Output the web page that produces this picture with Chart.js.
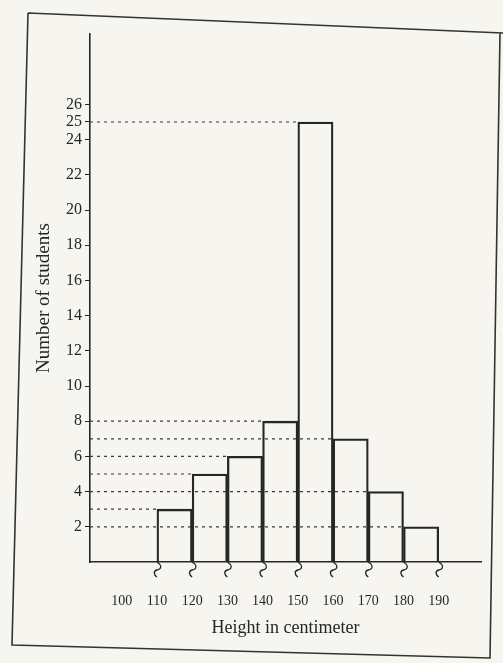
<!DOCTYPE html>
<html>
<head>
<meta charset="utf-8">
<script src="https://cdn.jsdelivr.net/npm/chart.js@4.4.0/dist/chart.umd.min.js"></script>
<style>
  html, body { margin: 0; padding: 0; background: #f6f5f0; }
  #wrap { width: 503px; height: 663px; }
</style>
</head>
<body>
<div id="wrap"><canvas id="histChart" width="503" height="663"></canvas></div>
<script>
// class edges in cm and number of students per class
const heightEdges = [100, 110, 120, 130, 140, 150, 160, 170, 180, 190];
const classStart = [110, 120, 130, 140, 150, 160, 170, 180];
const students = [3, 5, 6, 8, 25, 7, 4, 2];
const yTicks = [2, 4, 6, 8, 10, 12, 14, 16, 18, 20, 22, 24, 25, 26];

const xMin = 91;
const xMax = 202;
const serif = '"Liberation Serif", "DejaVu Serif", serif';
const ink = '#262626';

// dashed guide from the y axis to the top-left corner of each bar
const guideSets = classStart.map((start, i) => ({
    type: 'line',
    data: [{x: xMin, y: students[i]}, {x: start, y: students[i]}],
    borderColor: '#3a3a3a',
    borderWidth: 1.2,
    borderDash: [3, 4],
    pointRadius: 0,
    fill: false
}));

const paperPlugin = {
    id: 'paper',
    beforeDraw(chart) {
        const ctx = chart.ctx;
        ctx.save();
        ctx.fillStyle = '#f6f5f0';
        ctx.fillRect(0, 0, chart.width, chart.height);
        // scanned frame round the figure
        ctx.strokeStyle = '#333';
        ctx.lineWidth = 1.6;
        ctx.beginPath();
        ctx.moveTo(28, 13);
        ctx.lineTo(503, 33);
        ctx.moveTo(28, 13);
        ctx.lineTo(12, 645);
        ctx.lineTo(490, 658);
        ctx.lineTo(500, 33);
        ctx.stroke();
        ctx.restore();
    },
    afterDatasetsDraw(chart) {
        // small break marks under each class edge
        const ctx = chart.ctx;
        const x = chart.scales.x;
        const base = chart.chartArea.bottom;
        ctx.save();
        ctx.strokeStyle = ink;
        ctx.lineWidth = 1.3;
        classStart.concat([190]).forEach(v => {
            const px = x.getPixelForValue(v);
            ctx.beginPath();
            ctx.moveTo(px, base);
            ctx.bezierCurveTo(px + 5, base + 3, px + 5, base + 7, px, base + 8);
            ctx.bezierCurveTo(px - 4, base + 9, px - 3, base + 13, px, base + 15);
            ctx.stroke();
        });
        ctx.restore();
    }
};

document.addEventListener('DOMContentLoaded', function() {
    const ctx = document.getElementById('histChart').getContext('2d');
    new Chart(ctx, {
        type: 'bar',
        data: {
            datasets: [{
                type: 'bar',
                label: 'Number of students',
                data: classStart.map((start, i) => ({x: start + 5, y: students[i]})),
                backgroundColor: 'rgba(0,0,0,0)',
                borderColor: ink,
                borderWidth: 1.6,
                barPercentage: 1,
                categoryPercentage: 1
            }].concat(guideSets)
        },
        options: {
            responsive: false,
            animation: false,
            layout: {
                padding: {left: 30, top: 34, right: 22, bottom: 0}
            },
            plugins: {
                legend: {display: false},
                tooltip: {enabled: false}
            },
            scales: {
                x: {
                    type: 'linear',
                    offset: false,
                    min: xMin,
                    max: xMax,
                    afterBuildTicks: axis => {
                        axis.ticks = heightEdges.map(v => ({value: v}));
                    },
                    afterFit: scale => {
                        scale.height = 101;
                    },
                    ticks: {
                        autoSkip: false,
                        maxRotation: 0,
                        padding: 31,
                        color: ink,
                        font: {family: serif, size: 14}
                    },
                    grid: {drawOnChartArea: false, drawTicks: false, offset: false},
                    border: {color: ink, width: 1.6},
                    title: {
                        display: true,
                        text: 'Height in centimeter',
                        color: ink,
                        font: {family: serif, size: 18},
                        padding: {top: 4, bottom: 24}
                    }
                },
                y: {
                    type: 'linear',
                    min: 0,
                    max: 30,
                    afterBuildTicks: axis => {
                        axis.ticks = yTicks.map(v => ({value: v}));
                    },
                    afterFit: scale => {
                        scale.width = 60;
                    },
                    ticks: {
                        padding: 3,
                        color: ink,
                        font: {family: serif, size: 16}
                    },
                    grid: {drawOnChartArea: false, color: ink, tickLength: 5},
                    border: {color: ink, width: 1.6},
                    title: {
                        display: true,
                        text: 'Number of students',
                        color: ink,
                        font: {family: serif, size: 19},
                        padding: {top: 3, bottom: 0}
                    }
                }
            }
        },
        plugins: [paperPlugin]
    });
});
</script>
</body>
</html>
